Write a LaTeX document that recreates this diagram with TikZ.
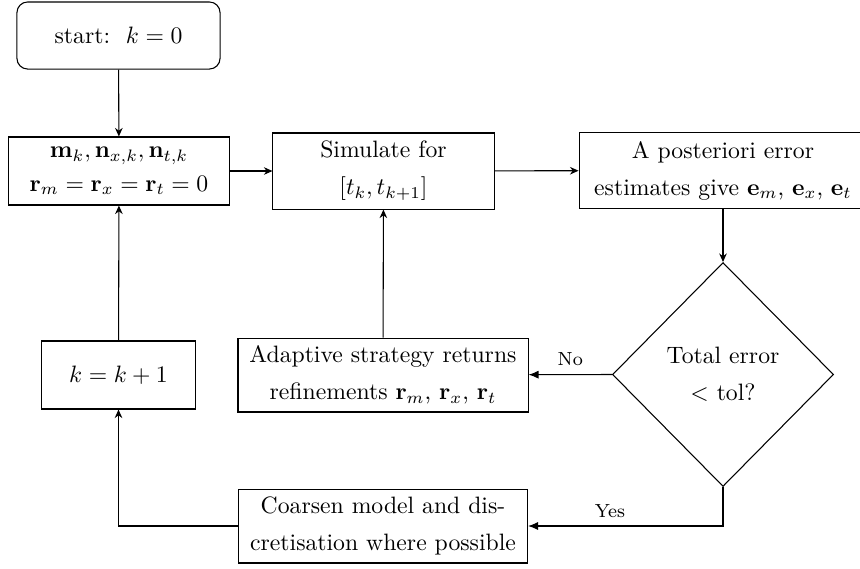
\documentclass[tikz,border=0pt]{standalone}
\usetikzlibrary{shapes.geometric,arrows.meta}
\begin{document}
\begin{tikzpicture}[x=0.422pt,y=-0.422pt,
  every node/.style={font=\fontsize{10}{15.6}\selectfont},
  box/.style={draw,rectangle,align=center,inner sep=2pt,line width=0.45pt},
  startbox/.style={box,rounded corners=4.5pt},
  decision/.style={draw,diamond,align=center,inner sep=0pt,minimum width=93.3pt,minimum height=94.5pt,line width=0.45pt},
  arr/.style={line width=0.45pt,-{Stealth[length=3.6pt,width=3.2pt]}},
  arrl/.style={line width=0.45pt,-{Latex[length=4.2pt,width=3.4pt]}},
  lbl/.style={font=\footnotesize,above}]
\useasboundingbox (0,0) rectangle (860,568);
\node[startbox,minimum width=85.7pt,minimum height=28.3pt] (start) at (118.5,35.5) {start:\ \ $k=0$};
\node[box,minimum width=93.3pt,minimum height=28.7pt,font=\fontsize{10}{14}\selectfont] (init) at (119,171) {$\mathbf{m}_k,\mathbf{n}_{x,k},\mathbf{n}_{t,k}$\\ $\mathbf{r}_m=\mathbf{r}_x=\mathbf{r}_t=0$};
\node[box,minimum width=93.3pt,minimum height=32.1pt] (sim) at (383.5,171) {Simulate for\\ $[t_k,t_{k+1}]$};
\node[box,minimum width=121.5pt,minimum height=31.7pt] (apost) at (723,170.5) {A posteriori error\\ estimates give $\mathbf{e}_m$, $\mathbf{e}_x$, $\mathbf{e}_t$};
\node[decision] (dec) at (723,374.5) {Total error\\ $<$\ tol?};
\node[box,minimum width=122.4pt,minimum height=31.2pt] (adapt) at (383,375) {Adaptive strategy returns\\ refinements $\mathbf{r}_m$, $\mathbf{r}_x$, $\mathbf{r}_t$};
\node[box,minimum width=64.6pt,minimum height=28.7pt] (inc) at (118.5,375) {$k=k+1$};
\node[box,minimum width=122pt,minimum height=31.2pt] (coarse) at (383,526) {Coarsen model and dis-\\ cretisation where possible};
\draw[arr] (start) -- (init);
\draw[arr] (init) -- (sim);
\draw[arr] (sim) -- (apost);
\draw[arr] (apost) -- (dec);
\draw[arrl] (dec.west) -- node[lbl] {No} (adapt);
\draw[arrl] (dec.south) |- node[lbl,pos=0.79] {Yes} (coarse.east);
\draw[arr] (adapt) -- (sim);
\draw[arr] (coarse.west) -| (inc.south);
\draw[arr] (inc) -- (init);
\end{tikzpicture}
\end{document}
